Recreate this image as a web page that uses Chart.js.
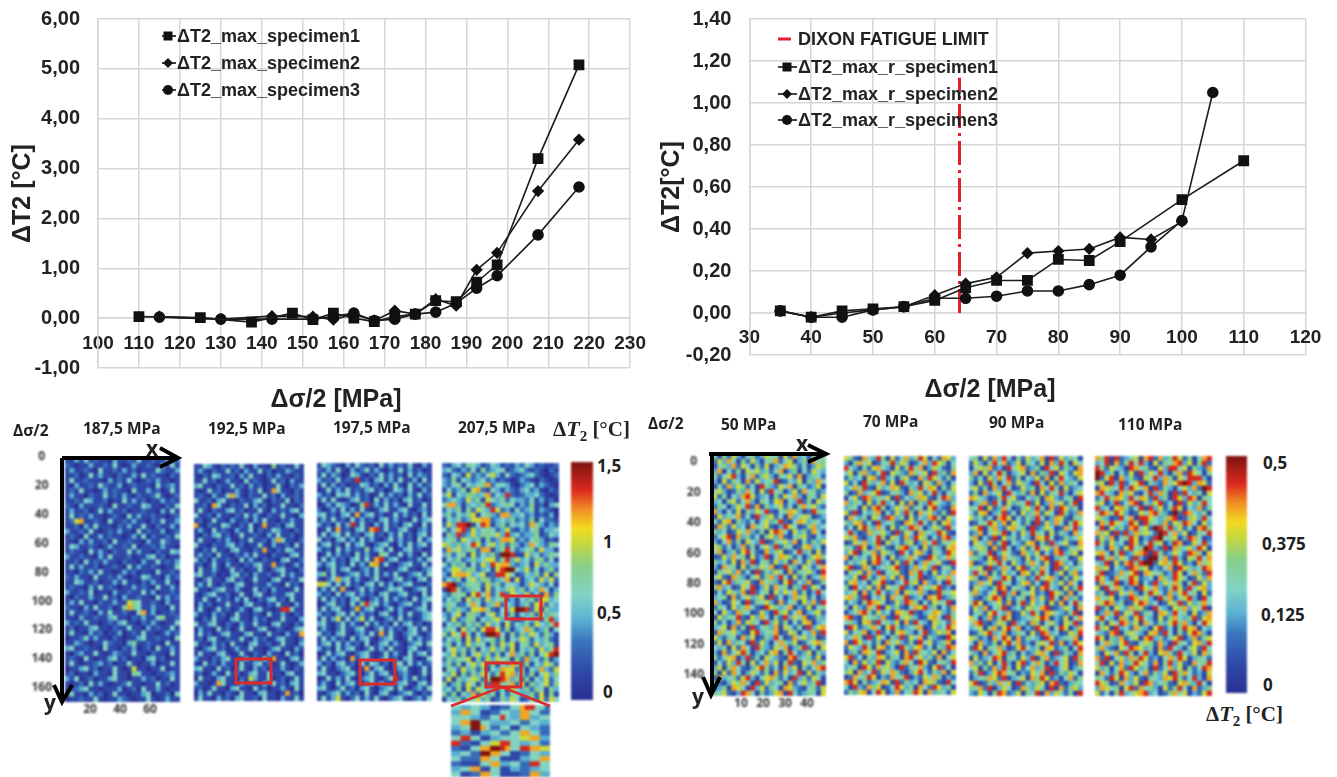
<!DOCTYPE html>
<html>
<head>
<meta charset="utf-8">
<script src="https://cdn.jsdelivr.net/npm/chart.js@4/dist/chart.umd.min.js"></script>
<style>
html, body { margin: 0; padding: 0; background: #fff; }
#page { position: relative; width: 1337px; height: 777px; overflow: hidden; font-family: "Liberation Sans", Arial, sans-serif; color: #222; }
#page canvas { position: absolute; }
.heat { filter: blur(0.8px); }
.txt { position: absolute; white-space: nowrap; font-weight: bold; transform: translateY(-50%); line-height: 1; }
.panel { font-family: "Open Sans", sans-serif; font-size: 15.5px; }
.barlab { font-family: "Open Sans", sans-serif; font-size: 17px; }
.axis { font-family: "Open Sans", sans-serif; font-size: 21px; }
.leg { font-size: 18px; }
.title { font-size: 25px; }
.math { font-family: "Liberation Serif", serif; font-size: 21px; }
.math i { font-size: 22px; }
.math sub { font-size: 15px; line-height: 0; }
.bar { position: absolute; }
svg { position: absolute; left: 0; top: 0; pointer-events: none; }
</style>
</head>
<body>
<div id="page"></div>
<script>
// top left chart
const leftNames = ['ΔT2_max_specimen1', 'ΔT2_max_specimen2', 'ΔT2_max_specimen3'];
const leftX1 = [110, 125, 137.5, 147.5, 152.5, 157.5, 162.5, 167.5, 172.5, 177.5, 182.5, 187.5, 192.5, 197.5, 207.5, 217.5];
const leftY1 = [0.03, 0.01, -0.08, 0.1, -0.03, 0.1, 0.0, -0.07, 0.03, 0.08, 0.35, 0.33, 0.72, 1.07, 3.2, 5.08];
const leftX2 = [115, 130, 142.5, 152.5, 157.5, 162.5, 167.5, 172.5, 177.5, 182.5, 187.5, 192.5, 197.5, 207.5, 217.5];
const leftY2 = [0.03, -0.02, 0.04, 0.03, -0.03, 0.08, -0.05, 0.15, 0.08, 0.38, 0.25, 0.97, 1.31, 2.55, 3.58];
const leftX3 = [115, 130, 142.5, 152.5, 157.5, 162.5, 167.5, 172.5, 177.5, 182.5, 187.5, 192.5, 197.5, 207.5, 217.5];
const leftY3 = [0.02, -0.02, -0.02, -0.02, 0.03, 0.1, -0.05, -0.02, 0.08, 0.12, 0.3, 0.6, 0.85, 1.67, 2.63];
const leftXTicks = [100, 110, 120, 130, 140, 150, 160, 170, 180, 190, 200, 210, 220, 230];
const leftYTicks = [-1, 0, 1, 2, 3, 4, 5, 6];

// top right chart
const rightNames = ['ΔT2_max_r_specimen1', 'ΔT2_max_r_specimen2', 'ΔT2_max_r_specimen3'];
const rightX1 = [35, 40, 45, 50, 55, 60, 65, 70, 75, 80, 85, 90, 100, 110];
const rightY1 = [0.01, -0.02, 0.01, 0.02, 0.03, 0.06, 0.12, 0.155, 0.155, 0.255, 0.25, 0.34, 0.54, 0.725];
const rightX2 = [35, 40, 45, 50, 55, 60, 65, 70, 75, 80, 85, 90, 95, 100];
const rightY2 = [0.01, -0.02, 0.0, 0.015, 0.03, 0.085, 0.14, 0.17, 0.285, 0.295, 0.305, 0.36, 0.35, 0.435];
const rightX3 = [35, 40, 45, 50, 55, 60, 65, 70, 75, 80, 85, 90, 95, 100, 105];
const rightY3 = [0.01, -0.02, -0.02, 0.015, 0.03, 0.07, 0.07, 0.08, 0.105, 0.105, 0.135, 0.18, 0.315, 0.44, 1.05];
const dixonName = 'DIXON FATIGUE LIMIT';
const dixonX = [64, 64];
const dixonY = [0, 1.12];
const rightXTicks = [30, 40, 50, 60, 70, 80, 90, 100, 110, 120];
const rightYTicks = [-0.2, 0, 0.2, 0.4, 0.6, 0.8, 1, 1.2, 1.4];

// heat map tick labels
const heatLeftYTicks = [0, 20, 40, 60, 80, 100, 120, 140, 160];
const heatLeftXTicks = [20, 40, 60];
const heatRightYTicks = [0, 20, 40, 60, 80, 100, 120, 140];
const heatRightXTicks = [10, 20, 30, 40];

// heat map cells, colour level 0-9 estimated by eye on a coarse grid (not the real pixels)
const heat1875 = [
"113141211031121411211312","210113112141013112103141","131121041121312011142113","112014131102113141211021",
"141121110312141012131101","103112142113012111041231","121411013121104113120141","131102114121310211241012",
"112143112011413120113121","210311121041121143110214","131120141311201121103141","141213110121041311211012",
"126711210411213110214113","112031411102131141021131","311214101213110412113012","121041131211013140211214",
"110313112041121103114211","143112101311214011213110","121104131021141311021143","311211031411120113412011",
"112041213110211031141213","141311201121041311210114","110213141101312011041121","213110411213101143110312",
"114311201131411021311410","121103141210113121041131","311214011031121141301121","102113114120311211041312",
"131411021131165411210311","211031411201575411311041","141121031411210471301121","110311211341102131145112",
"312141101213411021310114","120113411021141103121141","141103120113012141101312","011241311021011341121104",
"113210114211035112110411","341121104110213012041131","102311410132114110211041","121041011341201103412011",
"141011231201141011301141","011341201141016110114011","120110311041105411011231","314012011341101131201141",
"101204131011241101141201","112341101113012041131011","141103120141101134011204","011211410113210114101311"];
const heat1925 = [
"114310212141031105121141","131021141203114120113211","102143112031411021311021","114120131104121014120311",
"341102114120312011410213","101412011310214017411021","121031147310211412031121","411203411021134102114021",
"112074102114031201141102","141021134120114103121341","411203110214131021141103","120141103112031411021311",
"710211431021401711203411","131041210311402114311021","102134120141121031411201","141102131021411203741102",
"411021134120114103112041","102141103411021710214311","131204110213141102110341","412031121041310211034102",
"120141031102134117120131","041131014120114102341102","341120103412031120141311","102411034120141103410214",
"131410210341021131104120","411023411310141203110141","102341120141034102113411","114103120314102134120411",
"031201141103411021411031","141014120131034110188411","311031201411021041131021","102141103411031201141103",
"411341021031141103411021","031104120141013410210134","141201341103411041103117","120341021141031201341102",
"411031204110341120141103","102341201311411013411031","141103410141021031104120","311021341103120417110341",
"104120311041134120141013","341104120141031201131021","120131041201341141103411","041103411021631140120141",
"311017411031201314120341","120141103411041201131041","031411021041103411017120","141103120341120411031141"];
const heat1975 = [
"143210314212041312141031","213141031241310214131201","141320143102141312041321","312141218120341314113041",
"141312011431203141041312","014131412134120143141031","312043413120141312031412","141410134120413120341201",
"013143201581314131041141","201314131410134113410231","341203417134120141312041","131412041312034131104134",
"312041381410314120341041","014171203417814113410231","141341412034120314120341","412034131413102413120413",
"134120413410234103141341","312041312151341401341201","014131204131054114131041","141312034141781341021314",
"313412041316714102341141","102413410231410113411023","351410234131413141023414","102473413102410134120341",
"664141412034141302341102","131417102413102434102341","312041341312034113411041","141312034102314131204134",
"013412041583413102341141","141341027134102413102341","312034141312034103141134","141361413614102314120134",
"341024131041312041341201","131024113410241312034141","412034102314171410234102","141312041341023410141312",
"134141312040134131023414","312041341024131411034102","014134102341014131041341","141312071341024120341014",
"312034120414312034141312","141023410171341023410141","341102341024134102310141","014131410234102481314120",
"131041341024131023410341","341024120341023414102314","102341312041034102341021","141361024131410234102314"];
const heat2075 = [
"213425431243121324312112","342132415234412342121021","214316232463142123421012","325143234231210132102101",
"324514345724431023413210","142351672143132134231021","361435534724382123342101","234326351643524332413120",
"477313435823454132512034","243515264386231423513210","352435614532773342312130","143523667723435232514221",
"263889148713524342753132","424782634542362132451334","153823635546383423351243","345264351523776232453121",
"653534862463525313743254","274635527713584234526331","352451624352998116342354","143523534662583634255241",
"425351426386773234163533","236635523416899436241352","316776346128864124352615","243514635523471613426362",
"789235452635244313643241","198523541624356352437413","325451684725826436241725","243516352634523143526634",
"354224741357243135267243","153532667521436998261533","324615531462425143526354","426235514356342124352583",
"143525352634162435264358","354163526886251347523514","526485142998415253642531","243516263452514365243521",
"351426354152636145263451","146352514363526143526358","436251463525147352514689","253546152636451527342513",
"352514636251437525143652","154263525143766251437326","436152536425867352514635","261534652599873525143624",
"513526415288547261534625","342516264352516435254153","525143726351425433526151","143525463512536412526264"];
const heat50 = [
"415263145236451627341564","263741526314572461352745","145372641526134765241365","371425164635247135142643",
"524683147256315462713542","316254172634581243615374","142736524185326471542361","463125374162845136274523",
"625143786234152647315426","341562473154267143825164","254136482715346241574632","731426153648214576312854",
"163547241835624173465123","426715324146358214763542","175263417546213864125734","534126473251687416352741",
"246817352415637214562143","314725164381254637142536","652413725146382541267341","471352684217356124835162",
"126374516238147652413675","534261738145263517426381","317451625364712853164247","154637241825364172546318",
"462175314625738416251347","216835462174531682437125","573412648136274515382641","142653718245163647251384",
"345172463561824137562413","731264182546317245163728","254163574218653471326145","416327541263185624713562",
"163548216374152836471253","524137265418362514267134","346172518245371642518367","175463216834571265143728",
"632541736125384127463512","261735418263147536124675","435162741853264713582416","317246851342671584236153",
"524671382516432178345261","142638516247361582164735","361574213685241736152478","516274136425172634816253",
"173452683146752418352641","421365741826345172463581","235176418362541763214526","546213874152367184235416"];
const heat70 = [
"652174385162473586142763","315746124583651247386514","843152674316258471364215","461573248165327546183527",
"253416728341562173864251","624185347261853416527314","347582163476215384761526","512734681245317562483145",
"146287354618243576214873","735416258341627153864325","354162785136472541683217","628143571426385174632518",
"174351642873516243785164","536724183452176384251673","241685374162538741365284","483127546318264175438621",
"657213485164273865142783","126473581634256137482546","542861374215783416253167","368154726531842673154286",
"715342684162357421863475","243561783416285137546218","681275134568213746381452","154627381456217583162437",
"436185247362714581236574","267341568213485617324185","518436271645823174568231","346172584237165473128546",
"675281436174582341768235","243158764126387514265481","516327481635214768351427","134785263417658213476325",
"782164537218465312674185","453167284536172843165427","186235741685234571263486","624571382416753148236571",
"347518264153826471532186","718634251746325184623571","264385167241853672415387","135276481346172854361724",
"682415376254178463527146","417263581632574186214538","345186274631825473168241","561734826475213684253716",
"127458613274581326475132","786152347618253417652184","418327561248635174286351","253671486137245861735426"];
const heat90 = [
"451627384152634718263541","263158472361542617385164","146572318467235184625317","371624851346172538164267",
"524163748251436271584326","316285147265318416273541","462517384126351748516234","251734618435271625483146",
"764312584621435176324518","135728416354826137462581","548162374125638417286351","426713582416357264185237",
"635241786142538413762154","124586371642518263741586","468157326745182364127483","237146581426385416253174",
"571428163524317684125346","164372581432671528346217","346517284136258463712546","725481364217536142783561",
"453168274531624781354126","712365841632574261873415","546182374168253741826354","384715263417625841361572",
"651274386145238467315264","237461854136724185362741","164325871453162784316258","573246183715462318652714",
"421368715245173628417352","586134627158263416271485","263714581342654781236417","145268437126385176432581",
"641372586123456871326147","478213651834275146316582","346157268471328651486137","125683471354162873412658",
"652317486172543186235471","417325168472315648271386","286154731268435176235148","531724683514236741825317",
"162348715426381572346185","735261483168247513846127","461527385162473581246135","258136874513264718253641",
"134576281346175862314725","681253746182435617821354","547281364127536418172563","326415872361548173642518"];
const heat110 = [
"758182346178273586251478","348172584831625478361582","852643187452163884615327","983514261836483157286415",
"926817352164837516488831","561838246815327468983762","176548386471825314637298","784317562148375182843516",
"248576384762835186387154","561382478153682418263584","834167524818362586143725","487586312647853192874351",
"653128471886435781256384","175864386185437265874163","481635278462985836241785","756182837564298473612548",
"263714586132894561387412","852634186248561387126483","341752684598328175463861","674158236781852364287516",
"185736428319947283165847","438162785899267586231746","756143287561324718653487","581237468176452386147528",
"863174586234175386412637","274581387142836475158263","618475231864732586284673","351826473158642736845162",
"745613287463185724683184","468735126873412658263574","825164375621843165736481","137582648254176384516237",
"684317526843162574358267","251648736174253685731486","856183427531682415867143","432781564316728415268731",
"861537246178352468137256","147536821465273185426738","573216487635172843156284","316472851483167528436175",
"728146375862314758613542","481627358642715836217458","635147286351824736152487","174258631472536185742316",
"542861736215437685248317","865127436187345216753841","376451682745316258417235","624158346783412574613268"];
const heatInset = [
"44334433112244788442","33774411224433774422","44443322448433773344","44779944333344224433",
"33449974224411443322","22331133442244774422","44884411334444667733","88221144668844334422",
"22114477998744887766","33442299774411224433","44222277441111334477","22111144773344228844",
"33447711441133223344","44112277441111227733"];

const panelTitles = ['187,5 MPa', '192,5 MPa', '197,5 MPa', '207,5 MPa', '50 MPa', '70 MPa', '90 MPa', '110 MPa'];
const leftBarLabels = ['1,5', '1', '0,5', '0'];
const rightBarLabels = ['0,5', '0,375', '0,125', '0'];

// jet style colour key, sampled from the colour bars
const jetStops = [[0, '#2b2f92'], [0.12, '#2f49a8'], [0.25, '#3a76bd'], [0.34, '#5cb3d4'], [0.44, '#83d3c5'],
    [0.56, '#86cf8c'], [0.66, '#c8d83c'], [0.72, '#f3dc20'], [0.8, '#f09024'], [0.88, '#dd2a1f'], [1, '#7d1410']];

Chart.defaults.animation = false;
Chart.defaults.responsive = false;
Chart.defaults.layout.autoPadding = false;

const page = document.getElementById('page');

function hexRgb(h) {
    return [parseInt(h.substr(1, 2), 16), parseInt(h.substr(3, 2), 16), parseInt(h.substr(5, 2), 16)];
}

function jetColor(v) {
    for (let i = 1; i < jetStops.length; i++) {
        if (v <= jetStops[i][0]) {
            const a = jetStops[i - 1], b = jetStops[i];
            const t = (v - a[0]) / (b[0] - a[0]);
            const ca = hexRgb(a[1]), cb = hexRgb(b[1]);
            return `rgb(${ca.map((c, k) => Math.round(c + (cb[k] - c) * t)).join(',')})`;
        }
    }
    return jetStops[jetStops.length - 1][1];
}

function addCanvas(left, top, width, height, cls) {
    const c = document.createElement('canvas');
    c.width = width;
    c.height = height;
    c.style.left = left + 'px';
    c.style.top = top + 'px';
    if (cls) c.className = cls;
    page.appendChild(c);
    return c;
}

function addText(x, y, html, cls, center) {
    const d = document.createElement('div');
    d.className = 'txt ' + cls;
    d.style.left = x + 'px';
    d.style.top = y + 'px';
    if (center) d.style.transform = 'translate(-50%,-50%)';
    d.innerHTML = html;
    page.appendChild(d);
}

function toPoints(xs, ys) {
    return xs.map((x, i) => ({ x: x, y: ys[i] }));
}

function lineSet(name, xs, ys, style, radius) {
    return {
        label: name, data: toPoints(xs, ys), showLine: true,
        borderColor: '#1c1c1c', borderWidth: 1.6,
        backgroundColor: '#111', pointBorderColor: '#111',
        pointStyle: style, pointRadius: radius, tension: 0
    };
}

function lineChart(box, datasets, xTicks, yTicks, yTitle, sizes) {
    const gridColor = '#d6d6d6';
    new Chart(addCanvas(box.left, 0, box.width, box.height), {
        type: 'scatter',
        data: { datasets: datasets },
        options: {
            layout: { padding: { top: sizes.top, bottom: box.height - sizes.bottom, right: box.width - sizes.right, left: 0 } },
            plugins: { legend: { display: false }, tooltip: { enabled: false } },
            scales: {
                x: {
                    position: { y: 0 },
                    min: xTicks[0], max: xTicks[xTicks.length - 1],
                    afterBuildTicks: s => { s.ticks = xTicks.map(v => ({ value: v })); },
                    grid: { color: gridColor, lineWidth: 1.5, drawTicks: false },
                    border: { color: gridColor, width: 1.5 },
                    ticks: { autoSkip: false, maxRotation: 0, padding: sizes.xPad, color: '#222', font: { size: 19, weight: 'bold', family: 'Liberation Sans' } }
                },
                y: {
                    min: yTicks[0], max: yTicks[yTicks.length - 1],
                    afterBuildTicks: s => { s.ticks = yTicks.map(v => ({ value: v })); },
                    afterFit: s => { s.width = sizes.axisWidth; s.paddingTop = 0; s.paddingBottom = 0; },
                    grid: { color: gridColor, lineWidth: 1.5, drawTicks: false },
                    border: { color: gridColor, width: 1.5 },
                    title: { display: true, text: yTitle, color: '#222', padding: { top: sizes.titlePad, bottom: 0 }, font: { size: 25, weight: 'bold', family: 'Liberation Sans' } },
                    ticks: {
                        padding: 18, color: '#222', font: { size: 20, weight: 'bold', family: 'Liberation Sans' },
                        callback: v => v.toFixed(2).replace('.', ',')
                    }
                }
            }
        }
    });
}

lineChart({ left: 0, width: 660, height: 400 }, [
    lineSet(leftNames[0], leftX1, leftY1, 'rect', 6.5),
    lineSet(leftNames[1], leftX2, leftY2, 'rectRot', 5),
    lineSet(leftNames[2], leftX3, leftY3, 'circle', 5)
], leftXTicks, leftYTicks, 'ΔT2 [°C]', { top: 19, bottom: 368, right: 630.5, axisWidth: 98, xPad: 14, titlePad: 8 });

lineChart({ left: 657, width: 680, height: 395 }, [
    lineSet(rightNames[0], rightX1, rightY1, 'rect', 6.5),
    lineSet(rightNames[1], rightX2, rightY2, 'rectRot', 5),
    lineSet(rightNames[2], rightX3, rightY3, 'circle', 5),
    {
        label: dixonName, data: toPoints(dixonX, dixonY), showLine: true, pointRadius: 0,
        borderColor: '#e3202a', borderWidth: 3, borderDash: [24, 5, 3, 5]
    }
], rightXTicks, rightYTicks, 'ΔT2[°C]', { top: 19, bottom: 355, right: 648.5, axisWidth: 92.4, xPad: 13, titlePad: 0 });

// one scatter of square points per heat map, cells placed through the scales
function heatChart(rows, p) {
    const cols = rows[0].length, nRows = rows.length;
    const xMin = p.xMin, xMax = p.xMax, yMin = p.yMin, yMax = p.yMax;
    const pts = [];
    rows.forEach((row, r) => {
        for (let c = 0; c < Math.min(cols, row.length); c++) {
            pts.push({
                x: xMin + (c + 0.5) * (xMax - xMin) / cols,
                y: yMin + (r + 0.5) * (yMax - yMin) / nRows,
                v: Number(row[c]) / 9
            });
        }
    });
    const hasAxes = !!p.yTicks;
    const tickFont = { size: 12, weight: 'bold', family: 'Open Sans' };
    const axisLeft = hasAxes ? p.axisWidth : 0;
    const canvasLeft = p.left - axisLeft;
    const canvasTop = p.top - (hasAxes ? 20 : 0);
    const canvasH = p.bottom - p.top + (hasAxes ? 45 : 0);
    new Chart(addCanvas(canvasLeft, canvasTop, p.right - canvasLeft, canvasH), {
        type: 'scatter',
        data: {
            datasets: [{
                data: pts,
                pointStyle: 'rect',
                borderWidth: 0,
                pointBorderWidth: 0,
                pointRadius: ctx => {
                    const a = ctx.chart.chartArea;
                    if (!a) return 4;
                    return (Math.max(a.width / cols, a.height / nRows) + 0.6) / Math.SQRT2;
                },
                backgroundColor: ctx => ctx.raw ? jetColor(ctx.raw.v) : '#000'
            }]
        },
        options: {
            layout: { padding: hasAxes ? { top: 20, left: 0, right: 0, bottom: 0 } : 0 },
            plugins: { legend: { display: false }, tooltip: { enabled: false } },
            scales: {
                x: {
                    display: hasAxes, min: xMin, max: xMax,
                    afterBuildTicks: s => { if (p.xTicks) s.ticks = p.xTicks.map(v => ({ value: v })); },
                    afterFit: s => { if (hasAxes) { s.height = 25; s.paddingLeft = 0; s.paddingRight = 0; } },
                    grid: { display: false, drawTicks: false }, border: { display: false },
                    ticks: { autoSkip: false, maxRotation: 0, padding: 0, color: '#333', font: tickFont }
                },
                y: {
                    display: hasAxes, reverse: true, min: yMin, max: yMax,
                    afterBuildTicks: s => { if (p.yTicks) s.ticks = p.yTicks.map(v => ({ value: v })); },
                    afterFit: s => { if (hasAxes) { s.width = p.axisWidth; s.paddingTop = 0; s.paddingBottom = 0; } },
                    grid: { display: false, drawTicks: false }, border: { display: false },
                    ticks: { autoSkip: false, crossAlign: 'center', padding: p.tickPad || 0, color: '#333', font: tickFont }
                }
            }
        }
    }).canvas.classList.add('heat');
}

heatChart(heat1875, { left: 65, right: 180, top: 458, bottom: 702, xMin: 3.3, xMax: 80, yMin: 0.7, yMax: 170, yTicks: heatLeftYTicks, xTicks: heatLeftXTicks, axisWidth: 65, tickPad: 13 });
heatChart(heat1925, { left: 194, right: 304, top: 464, bottom: 701, xMin: 0, xMax: 1, yMin: 0, yMax: 1 });
heatChart(heat1975, { left: 317, right: 432, top: 463, bottom: 701, xMin: 0, xMax: 1, yMin: 0, yMax: 1 });
heatChart(heat2075, { left: 442, right: 559, top: 463, bottom: 702, xMin: 0, xMax: 1, yMin: 0, yMax: 1 });
heatChart(heatInset, { left: 451, right: 550, top: 705, bottom: 777, xMin: 0, xMax: 1, yMin: 0, yMax: 1 });
heatChart(heat50, { left: 713, right: 826, top: 454, bottom: 696, xMin: -2.7, xMax: 48.6, yMin: -5.2, yMax: 154, yTicks: heatRightYTicks, xTicks: heatRightXTicks, axisWidth: 73, tickPad: 9 });
heatChart(heat70, { left: 844, right: 956, top: 456, bottom: 695, xMin: 0, xMax: 1, yMin: 0, yMax: 1 });
heatChart(heat90, { left: 969, right: 1083, top: 456, bottom: 696, xMin: 0, xMax: 1, yMin: 0, yMax: 1 });
heatChart(heat110, { left: 1095, right: 1212, top: 456, bottom: 696, xMin: 0, xMax: 1, yMin: 0, yMax: 1 });

// colour bars
const jetCss = 'linear-gradient(to top,' + jetStops.map(s => `${s[1]} ${s[0] * 100}%`).join(',') + ')';
[[571, 462, 22, 238], [1226, 456, 21, 237]].forEach(b => {
    const d = document.createElement('div');
    d.className = 'bar heat';
    d.style.cssText = `left:${b[0]}px;top:${b[1]}px;width:${b[2]}px;height:${b[3]}px;background:${jetCss}`;
    page.appendChild(d);
});

// text
addText(177, 36, leftNames[0], 'leg');
addText(177, 63, leftNames[1], 'leg');
addText(177, 90, leftNames[2], 'leg');
addText(798, 39, dixonName, 'leg');
addText(798, 67, rightNames[0], 'leg');
addText(798, 94, rightNames[1], 'leg');
addText(798, 120, rightNames[2], 'leg');
addText(336, 398, 'Δσ/2 [MPa]', 'title', true);
addText(990, 388, 'Δσ/2 [MPa]', 'title', true);

addText(13, 431, 'Δσ/2', 'panel');
addText(648, 424, 'Δσ/2', 'panel');
[[83, 429], [208, 429], [333, 428], [458, 428], [721, 425], [863, 422], [989, 423], [1118, 425]].forEach((q, i) => {
    addText(q[0], q[1], panelTitles[i], 'panel');
});
const deltaT = 'Δ<i>T</i><sub>2</sub> [°C]';
addText(553, 429, deltaT, 'math');
addText(1206, 714, deltaT, 'math');
[[597, 465], [603, 541], [597, 612], [603, 691]].forEach((q, i) => addText(q[0], q[1], leftBarLabels[i], 'barlab'));
[[1263, 462], [1262, 543], [1261, 614], [1263, 684]].forEach((q, i) => addText(q[0], q[1], rightBarLabels[i], 'barlab'));
addText(146, 448, 'x', 'axis');
addText(44, 702, 'y', 'axis');
addText(796, 443, 'x', 'axis');
addText(692, 696, 'y', 'axis');

// arrows, red boxes and legend keys on top of the charts
const redBoxes = [[236, 659, 35, 24], [360, 660, 35, 24], [506, 596, 35, 23], [486, 663, 35, 24]];
let svg = '<svg width="1337" height="777">';
const black = 'fill="none" stroke="#000" stroke-width="4"';
svg += `<path d="M62 458H176M160 448L178 458L160 467M62 458V700M54 685L62 702L72 685" ${black}/>`;
svg += `<path d="M709 454H824M808 445L826 454L808 462M712 454V693M703 677L711 695L720 677" ${black}/>`;
redBoxes.forEach(b => {
    svg += `<rect x="${b[0]}" y="${b[1]}" width="${b[2]}" height="${b[3]}" fill="none" stroke="#dd2a2a" stroke-width="3"/>`;
});
svg += '<path d="M451 706L502 687L550 706" fill="none" stroke="#dd2a2a" stroke-width="2.5"/>';
svg += '<path d="M778 39H791" stroke="#e3202a" stroke-width="3"/>';
const key = (x0, x1, cx, y, shape) => {
    let s = `<path d="M${x0} ${y}H${x1}" stroke="#111" stroke-width="1.6"/>`;
    if (shape === 0) s += `<rect x="${cx - 4.5}" y="${y - 4.5}" width="9" height="9" fill="#111"/>`;
    if (shape === 1) s += `<path d="M${cx} ${y - 5}L${cx + 5} ${y}L${cx} ${y + 5}L${cx - 5} ${y}Z" fill="#111"/>`;
    if (shape === 2) s += `<circle cx="${cx}" cy="${y}" r="5" fill="#111"/>`;
    return s;
};
[36, 63, 90].forEach((y, i) => { svg += key(162, 176, 168, y, i); });
[67, 94, 120].forEach((y, i) => { svg += key(778, 797, 787, y, i); });
svg += '</svg>';
page.insertAdjacentHTML('beforeend', svg);
</script>
</body>
</html>
